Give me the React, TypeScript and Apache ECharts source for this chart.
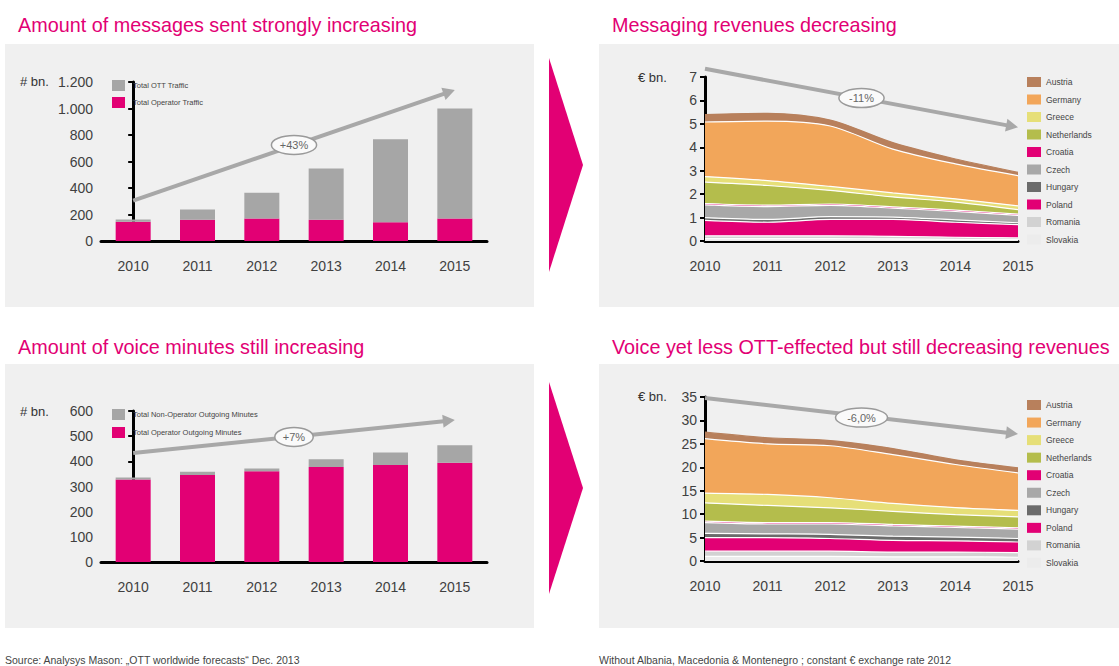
import React, { useEffect, useRef } from "react";
import * as echarts from "echarts";

const years = ["2010", "2011", "2012", "2013", "2014", "2015"];

// Messages (# bn.)
const msgOperator = [145, 160, 170, 160, 142, 170];
const msgOTT = [18, 77, 194, 387, 626, 830];
const msgTrend = [0, 305, 5, 1140, 2.5, 725];
const msgTrendLabel = "+43%";
const msgTicks = { min: 0, max: 1200, interval: 200 };

// Voice minutes (# bn.)
const voiceOperator = [328, 346, 361, 377, 385, 394];
const voiceNonOperator = [8, 13, 11, 31, 50, 70];
const voiceTrend = [0, 433, 5, 564, 2.5, 497];
const voiceTrendLabel = "+7%";
const voiceTicks = { min: 0, max: 600, interval: 100 };

// Countries, bottom of stack first
const countries = ["Slovakia", "Romania", "Poland", "Hungary", "Czech", "Croatia", "Netherlands", "Greece", "Germany", "Austria"];
const countryColors = ["#ececec", "#d2d2d2", "#e20074", "#6b6b6b", "#a8a8a8", "#e20074", "#b4bd4c", "#e6df78", "#f2a65a", "#b8805c"];

// Messaging revenues (€ bn.)
const msgRevSlovakia = [0.10, 0.10, 0.10, 0.09, 0.07, 0.06];
const msgRevRomania = [0.12, 0.12, 0.12, 0.11, 0.09, 0.07];
const msgRevPoland = [0.66, 0.58, 0.70, 0.72, 0.64, 0.57];
const msgRevHungary = [0.12, 0.12, 0.12, 0.10, 0.10, 0.08];
const msgRevCzech = [0.54, 0.55, 0.48, 0.38, 0.36, 0.31];
const msgRevCroatia = [0.06, 0.06, 0.06, 0.06, 0.06, 0.06];
const msgRevNetherlands = [0.91, 0.84, 0.58, 0.42, 0.34, 0.19];
const msgRevGreece = [0.24, 0.21, 0.17, 0.17, 0.14, 0.16];
const msgRevGermany = [2.33, 2.54, 2.58, 1.87, 1.49, 1.29];
const msgRevAustria = [0.32, 0.33, 0.25, 0.28, 0.21, 0.14];
const msgRevTrend = [0, 7.35, 5, 4.85, 2.5, 6.1];
const msgRevTrendLabel = "-11%";
const msgRevTicks = { min: 0, max: 7, interval: 1 };

// Voice revenues (€ bn.)
const voiceRevSlovakia = [1.0, 1.0, 1.0, 0.9, 0.9, 0.8];
const voiceRevRomania = [1.1, 1.1, 1.1, 1.0, 1.0, 1.0];
const voiceRevPoland = [2.9, 2.9, 2.7, 2.5, 2.4, 2.25];
const voiceRevHungary = [0.9, 0.8, 0.9, 0.9, 0.8, 0.75];
const voiceRevCzech = [2.3, 2.1, 2.2, 2.2, 2.05, 2.0];
const voiceRevCroatia = [0.3, 0.3, 0.3, 0.3, 0.3, 0.3];
const voiceRevNetherlands = [3.9, 3.65, 3.15, 2.8, 2.45, 2.3];
const voiceRevGreece = [2.1, 2.35, 2.15, 1.7, 1.5, 1.4];
const voiceRevGermany = [11.6, 10.8, 11.1, 10.4, 9.2, 8.0];
const voiceRevAustria = [1.4, 1.3, 1.1, 1.3, 1.0, 1.1];
const voiceRevTrend = [0, 34.8, 5, 27.1, 2.5, 30.6];
const voiceRevTrendLabel = "-6,0%";
const voiceRevTicks = { min: 0, max: 35, interval: 5 };

const msgRevSeries = [msgRevSlovakia, msgRevRomania, msgRevPoland, msgRevHungary, msgRevCzech, msgRevCroatia, msgRevNetherlands, msgRevGreece, msgRevGermany, msgRevAustria];
const voiceRevSeries = [voiceRevSlovakia, voiceRevRomania, voiceRevPoland, voiceRevHungary, voiceRevCzech, voiceRevCroatia, voiceRevNetherlands, voiceRevGreece, voiceRevGermany, voiceRevAustria];

const MAGENTA = "#e20074";
const GRAY_BAR = "#a6a6a6";
const PANEL = "#f0f0f0";
const FONT = "'Liberation Sans', Arial, sans-serif";

const dotThousands = (v: number) => String(v).replace(/\B(?=(\d{3})+(?!\d))/g, ".");

function trendSeries(xAxisIndex: number, yAxisIndex: number, values: number[], label: string) {
  return {
    type: "custom",
    xAxisIndex,
    yAxisIndex,
    z: 6,
    silent: true,
    data: [values],
    renderItem: (params: any, api: any) => {
      const p0 = api.coord([api.value(0), api.value(1)]);
      const p1 = api.coord([api.value(2), api.value(3)]);
      const pl = api.coord([api.value(4), api.value(5)]);
      const dx = p1[0] - p0[0];
      const dy = p1[1] - p0[1];
      const len = Math.hypot(dx, dy);
      const ux = dx / len;
      const uy = dy / len;
      const head = 12;
      const hw = 6.5;
      const bx = p1[0] - ux * head;
      const by = p1[1] - uy * head;
      const rx = label.length * 3.4 + 9;
      return {
        type: "group",
        children: [
          { type: "line", shape: { x1: p0[0], y1: p0[1], x2: bx + ux, y2: by + uy }, style: { stroke: "#a8a8a8", lineWidth: 4 } },
          { type: "polygon", shape: { points: [[p1[0], p1[1]], [bx - uy * hw, by + ux * hw], [bx + uy * hw, by - ux * hw]] }, style: { fill: "#a8a8a8" } },
          { type: "ellipse", shape: { cx: pl[0], cy: pl[1], rx, ry: 9.5 }, style: { fill: "#fafafa", stroke: "#9a9a9a", lineWidth: 1.5 } },
          { type: "text", style: { text: label, x: pl[0], y: pl[1], align: "center", verticalAlign: "middle", fill: "#666", font: `11px ${FONT}` } },
        ],
      };
    },
  };
}

function catAxis(gridIndex: number, boundaryGap: boolean) {
  return {
    type: "category",
    gridIndex,
    data: years,
    boundaryGap,
    axisLine: { show: true, lineStyle: { color: "#000", width: 3 } },
    axisTick: { show: false },
    axisLabel: { color: "#404040", fontSize: 14, fontFamily: FONT, margin: 18 },
    splitLine: { show: false },
  };
}

function hiddenAxis(gridIndex: number, min: number, max: number) {
  return { type: "value", gridIndex, min, max, show: false };
}

function valAxis(gridIndex: number, t: { min: number; max: number; interval: number }, fmt?: (v: number) => string) {
  return {
    type: "value",
    gridIndex,
    min: t.min,
    max: t.max,
    interval: t.interval,
    axisLine: { show: true, lineStyle: { color: "#000", width: 3 } },
    axisTick: { show: true, length: 5, lineStyle: { color: "#000", width: 2 } },
    splitLine: { show: false },
    axisLabel: { color: "#404040", fontSize: 14, fontFamily: FONT, margin: 8, formatter: fmt },
  };
}

function areaSeries(xAxisIndex: number, yAxisIndex: number, stack: string, data: number[][]) {
  return countries.map((name, i) => ({
    type: "line",
    name,
    xAxisIndex,
    yAxisIndex,
    stack,
    data: data[i],
    smooth: 0.3,
    symbol: "none",
    itemStyle: { color: countryColors[i] },
    lineStyle: { color: i === countries.length - 1 ? countryColors[i] : "#ffffff", width: 1.2 },
    areaStyle: { color: countryColors[i], opacity: 1 },
  }));
}

function legend(data: string[], left: number, top: number, itemGap: number, fontSize: number, itemWidth: number, itemHeight: number, textPad: number) {
  return {
    data,
    orient: "vertical",
    left,
    top,
    padding: 0,
    itemGap,
    itemWidth,
    itemHeight,
    icon: "rect",
    selectedMode: false,
    itemStyle: { borderWidth: 0 },
    textStyle: { color: "#444", fontSize, fontFamily: FONT, padding: [0, 0, 0, textPad] },
  };
}

export default function App() {
  const ref = useRef<HTMLDivElement>(null);
  useEffect(() => {
    if (!ref.current) return;
    const chart = echarts.init(ref.current, undefined, { renderer: "svg" });
    const legendCountries = [...countries].reverse();
    const title = (text: string, x: number, y: number) => ({
      type: "text",
      left: x,
      top: y,
      style: { text, fill: MAGENTA, font: `19.8px ${FONT}` },
    });
    const small = (text: string, x: number, y: number, size: number) => ({
      type: "text",
      left: x,
      top: y,
      style: { text, fill: "#333", font: `${size}px ${FONT}` },
    });
    const option: any = {
      animation: false,
      backgroundColor: "#ffffff",
      graphic: [
        { type: "rect", shape: { x: 5, y: 44, width: 529, height: 263 }, style: { fill: PANEL }, z: -10 },
        { type: "rect", shape: { x: 599, y: 44, width: 520, height: 263 }, style: { fill: PANEL }, z: -10 },
        { type: "rect", shape: { x: 5, y: 364, width: 529, height: 264 }, style: { fill: PANEL }, z: -10 },
        { type: "rect", shape: { x: 599, y: 364, width: 520, height: 264 }, style: { fill: PANEL }, z: -10 },
        { type: "polygon", shape: { points: [[549, 58], [583, 165], [549, 272]] }, style: { fill: MAGENTA } },
        { type: "polygon", shape: { points: [[549, 382], [583, 488], [549, 594]] }, style: { fill: MAGENTA } },
        title("Amount of messages sent strongly increasing", 18, 15),
        title("Messaging revenues decreasing", 612, 15),
        title("Amount of voice minutes still increasing", 18, 337),
        title("Voice yet less OTT-effected but still decreasing revenues", 612, 337),
        small("# bn.", 20, 75, 13),
        small("€ bn.", 638, 71, 13),
        small("# bn.", 20, 405, 13),
        small("€ bn.", 638, 390, 13),
        { type: "text", left: 5, top: 654, style: { text: "Source: Analysys Mason: „OTT worldwide forecasts“ Dec. 2013", fill: "#444", font: `10.5px ${FONT}` } },
        { type: "text", left: 599, top: 654, style: { text: "Without Albania, Macedonia & Montenegro ; constant € exchange rate 2012", fill: "#444", font: `10.5px ${FONT}` } },
      ],
      grid: [
        { left: 101, top: 82, width: 386, height: 159 },
        { left: 705, top: 77, width: 313, height: 164 },
        { left: 101, top: 411, width: 386, height: 151 },
        { left: 705, top: 397, width: 313, height: 164 },
      ],
      legend: [
        legend(["Total OTT Traffic", "Total Operator Traffic"], 112, 80, 6, 7.5, 13, 11, 3),
        legend(legendCountries, 1027, 77, 7.5, 8.5, 14, 10, 0),
        legend(["Total Non-Operator Outgoing Minutes", "Total Operator Outgoing Minutes"], 112, 409, 7, 7.5, 13, 11, 3),
        legend(legendCountries, 1027, 400, 7.55, 8.5, 14, 10, 0),
      ],
      xAxis: [
        catAxis(0, true), hiddenAxis(0, -0.5, 5.5),
        catAxis(1, false), hiddenAxis(1, 0, 5),
        catAxis(2, true), hiddenAxis(2, -0.5, 5.5),
        catAxis(3, false), hiddenAxis(3, 0, 5),
      ],
      yAxis: [
        valAxis(0, msgTicks, dotThousands),
        valAxis(1, msgRevTicks),
        valAxis(2, voiceTicks),
        valAxis(3, voiceRevTicks),
      ],
      series: [
        { type: "bar", name: "Total Operator Traffic", xAxisIndex: 0, yAxisIndex: 0, stack: "msg", barWidth: 35, data: msgOperator, itemStyle: { color: MAGENTA } },
        { type: "bar", name: "Total OTT Traffic", xAxisIndex: 0, yAxisIndex: 0, stack: "msg", barWidth: 35, data: msgOTT, itemStyle: { color: GRAY_BAR } },
        trendSeries(1, 0, msgTrend, msgTrendLabel),
        ...areaSeries(2, 1, "msgRev", msgRevSeries),
        trendSeries(3, 1, msgRevTrend, msgRevTrendLabel),
        { type: "bar", name: "Total Operator Outgoing Minutes", xAxisIndex: 4, yAxisIndex: 2, stack: "voice", barWidth: 35, data: voiceOperator, itemStyle: { color: MAGENTA } },
        { type: "bar", name: "Total Non-Operator Outgoing Minutes", xAxisIndex: 4, yAxisIndex: 2, stack: "voice", barWidth: 35, data: voiceNonOperator, itemStyle: { color: GRAY_BAR } },
        trendSeries(5, 2, voiceTrend, voiceTrendLabel),
        ...areaSeries(6, 3, "voiceRev", voiceRevSeries),
        trendSeries(7, 3, voiceRevTrend, voiceRevTrendLabel),
      ],
    };
    chart.setOption(option);
    return () => chart.dispose();
  }, []);
  return <div ref={ref} style={{ position: "absolute", left: 0, top: 0, width: 1119, height: 666 }} />;
}
